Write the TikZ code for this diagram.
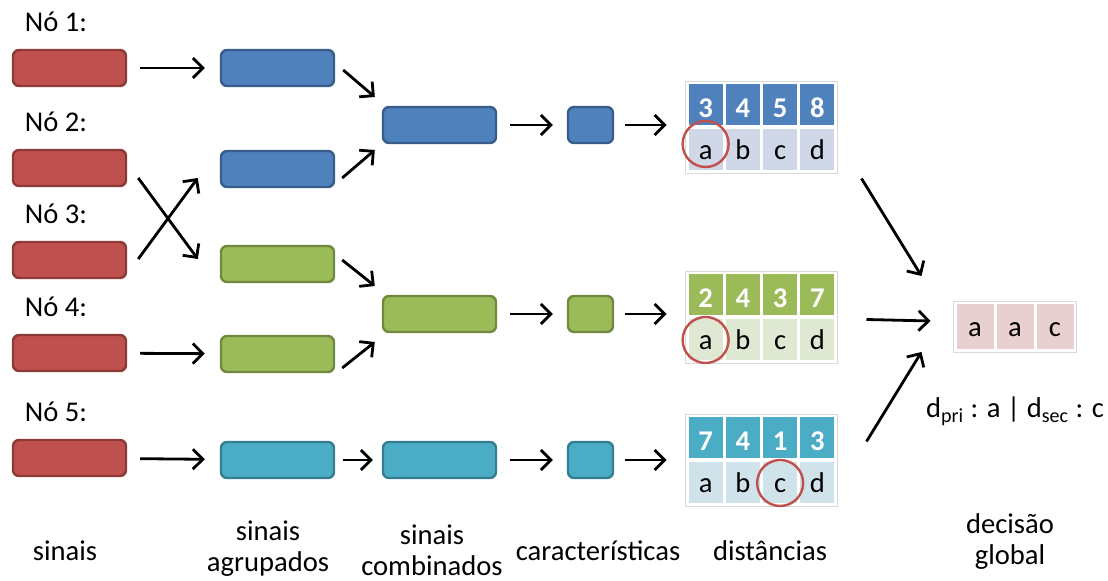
\documentclass[tikz,border=0pt]{standalone}
\usepackage{fontspec}
\setmainfont{Carlito}
\usetikzlibrary{arrows.meta,positioning,calc}
\definecolor{SigRed}{HTML}{C0504D}
\definecolor{SigRedDk}{HTML}{8C3A38}
\definecolor{GrpBlue}{HTML}{4F81BD}
\definecolor{GrpBlueDk}{HTML}{385D8A}
\definecolor{GrpGreen}{HTML}{9BBB59}
\definecolor{GrpGreenDk}{HTML}{71893F}
\definecolor{GrpCyan}{HTML}{4BACC6}
\definecolor{GrpCyanDk}{HTML}{357D91}
\definecolor{LtBlue}{HTML}{D0D8E8}
\definecolor{LtGreen}{HTML}{DFE8D3}
\definecolor{LtCyan}{HTML}{D0E3EA}
\definecolor{LtRed}{HTML}{E8D0D1}

\begin{document}
\begin{tikzpicture}[
  x=0.5pt,y=-0.5pt,
  font=\fontsize{14.3}{15.5}\selectfont,
  blk/.style={rounded corners=3pt,line width=1.2pt,minimum height=18pt,inner sep=0pt},
  sig/.style={blk,draw=SigRedDk,fill=SigRed,minimum width=56.5pt},
  wide/.style={blk,minimum width=56.5pt},
  feat/.style={blk,minimum width=22.5pt},
  blue/.style={draw=GrpBlueDk,fill=GrpBlue},
  green/.style={draw=GrpGreenDk,fill=GrpGreen},
  cyan/.style={draw=GrpCyanDk,fill=GrpCyan},
  cell/.style={draw=white,line width=1.5pt,minimum width=18.6pt,minimum height=22pt,inner sep=0pt,
    text height=13pt,text depth=3pt},
  head/.style={cell,text=white,font=\fontsize{14.3}{15.5}\selectfont\bfseries,text height=15.5pt,text depth=2.5pt},
  frame/.style={draw=black!15,line width=0.4pt},
  hit/.style={circle,draw=SigRed,line width=1.2pt,minimum size=23pt,inner sep=0pt},
  arrow/.style={-{Straight Barb[length=5pt,width=10pt]},line width=1.4pt},
  gap/.style={shorten <=6.5pt,shorten >=7.5pt},
  lbl/.style={align=center}
]
\useasboundingbox (0,0) rectangle (1108,581);

% sinais
\node[sig] (r1) at (69.5,68) {};
\node[sig] (r2) at (69.5,168) {};
\node[sig] (r3) at (69.5,260) {};
\node[sig] (r4) at (69.5,353) {};
\node[sig] (r5) at (69.5,458) {};
\node[anchor=base west] (n1) at ($(r1.north west)+(6,-17)$) {Nó 1:};
\node[anchor=base west] (n2) at ($(r2.north west)+(6,-17)$) {Nó 2:};
\node[anchor=base west] (n3) at ($(r3.north west)+(6,-17)$) {Nó 3:};
\node[anchor=base west] (n4) at ($(r4.north west)+(6,-17)$) {Nó 4:};
\node[anchor=base west] (n5) at ($(r5.north west)+(6,-17)$) {Nó 5:};

% sinais agrupados
\node[wide,blue] (g1) at (277.5,68) {};
\node[wide,blue] (g2) at (277.5,169) {};
\node[wide,green] (g3) at (277.5,264) {};
\node[wide,green] (g4) at (277.5,354) {};
\node[wide,cyan] (g5) at (277.5,460) {};

% sinais combinados
\node[wide,blue] (cb) at (439.5,125) {};
\node[wide,green] (cg) at (439.5,314) {};
\node[wide,cyan] (cc) at (439.5,460) {};

% caracteristicas
\node[feat,blue] (fb) at (590.5,125) {};
\node[feat,green] (fg) at (590.5,314) {};
\node[feat,cyan] (fc) at (590.5,460) {};

% distancias
\foreach \v [count=\i] in {3,4,5,8}
  \node[head,fill=GrpBlue] (bh\i) at ({687+37.25*(\i-0.5)},105) {\v};
\foreach \v [count=\i] in {a,b,c,d}
  \node[cell,fill=LtBlue] (bd\i) at ({687+37.25*(\i-0.5)},150) {\v};
\foreach \v [count=\i] in {2,4,3,7}
  \node[head,fill=GrpGreen] (gh\i) at ({687+37.25*(\i-0.5)},295) {\v};
\foreach \v [count=\i] in {a,b,c,d}
  \node[cell,fill=LtGreen] (gd\i) at ({687+37.25*(\i-0.5)},340) {\v};
\foreach \v [count=\i] in {7,4,1,3}
  \node[head,fill=GrpCyan] (ch\i) at ({687+37.25*(\i-0.5)},438) {\v};
\foreach \v [count=\i] in {a,b,c,d}
  \node[cell,fill=LtCyan] (cd\i) at ({687+37.25*(\i-0.5)},483) {\v};
\draw[frame] (bh1.north west) rectangle (bd4.south east);
\draw[frame] (gh1.north west) rectangle (gd4.south east);
\draw[frame] (ch1.north west) rectangle (cd4.south east);
\node[hit,yshift=3pt] (hb) at (bd1) {};
\node[hit] (hg) at (gd1) {};
\node[hit] (hc) at (cd3) {};

% decisao global
\foreach \v [count=\i] in {a,a,c}
  \node[cell,fill=LtRed,minimum width=20pt,minimum height=24pt] (dc\i) at ({955+40*(\i-0.5)},327) {\v};
\draw[frame] (dc1.north west) rectangle (dc3.south east);
\node[anchor=base] (dd) at (1015,418) {d\textsubscript{pri} : a | d\textsubscript{sec} : c};

% setas
\draw[arrow,gap] (r1) -- (g1);
\draw[arrow] ($(r2.east)+(11,10)$) -- ($(g3.west)+(-22,-5)$);
\draw[arrow] ($(r3.east)+(11,-1)$) -- ($(g2.west)+(-22,9)$);
\draw[arrow,gap] (r4) -- (g4);
\draw[arrow,gap] (r5) -- (g5);
\draw[arrow] ($(g1.east)+(8,2)$) -- ($(cb.west)+(-7,-28)$);
\draw[arrow] ($(g2.east)+(7,9)$) -- ($(cb.west)+(-7,25)$);
\draw[arrow] ($(g3.east)+(7,-4)$) -- ($(cg.west)+(-7,-28)$);
\draw[arrow] ($(g4.east)+(7,14)$) -- ($(cg.west)+(-7,28)$);
\draw[arrow,shorten <=4pt,shorten >=4.5pt] (g5) -- (cc);
\draw[arrow,shorten <=6.5pt,shorten >=7pt] (cb) -- (fb);
\draw[arrow,shorten <=6.5pt,shorten >=7pt] (cg) -- (fg);
\draw[arrow,shorten <=6.5pt,shorten >=7pt] (cc) -- (fc);
\draw[arrow,shorten <=5.5pt,shorten >=9.5pt] (fb) -- (fb -| bd1.west);
\draw[arrow,shorten <=5.5pt,shorten >=9.5pt] (fg) -- (fg -| gd1.west);
\draw[arrow,shorten <=5.5pt,shorten >=9.5pt] (fc) -- (fc -| cd1.west);
\draw[arrow] ($(bd4.south east)+(24,5)$) -- ($(dc1.west)+(-32,-51)$);
\draw[arrow] ($(gd4.north east)+(29,3)$) -- ($(dc1.west)+(-23,-6)$);
\draw[arrow] ($(ch4.south east)+(29,-20)$) -- ($(dc1.west)+(-32,25)$);

% rotulos
\node[lbl] (l1) at (65,551) {sinais};
\node[lbl] (l2) at (268,549) {sinais\\agrupados};
\node[lbl] (l3) at (432,550) {sinais\\combinados};
\node[lbl] (l4) at (598,551) {características};
\node[lbl] (l5) at (770,551) {distâncias};
\node[lbl] (l6) at (1010,542) {decisão\\global};
\end{tikzpicture}
\end{document}
